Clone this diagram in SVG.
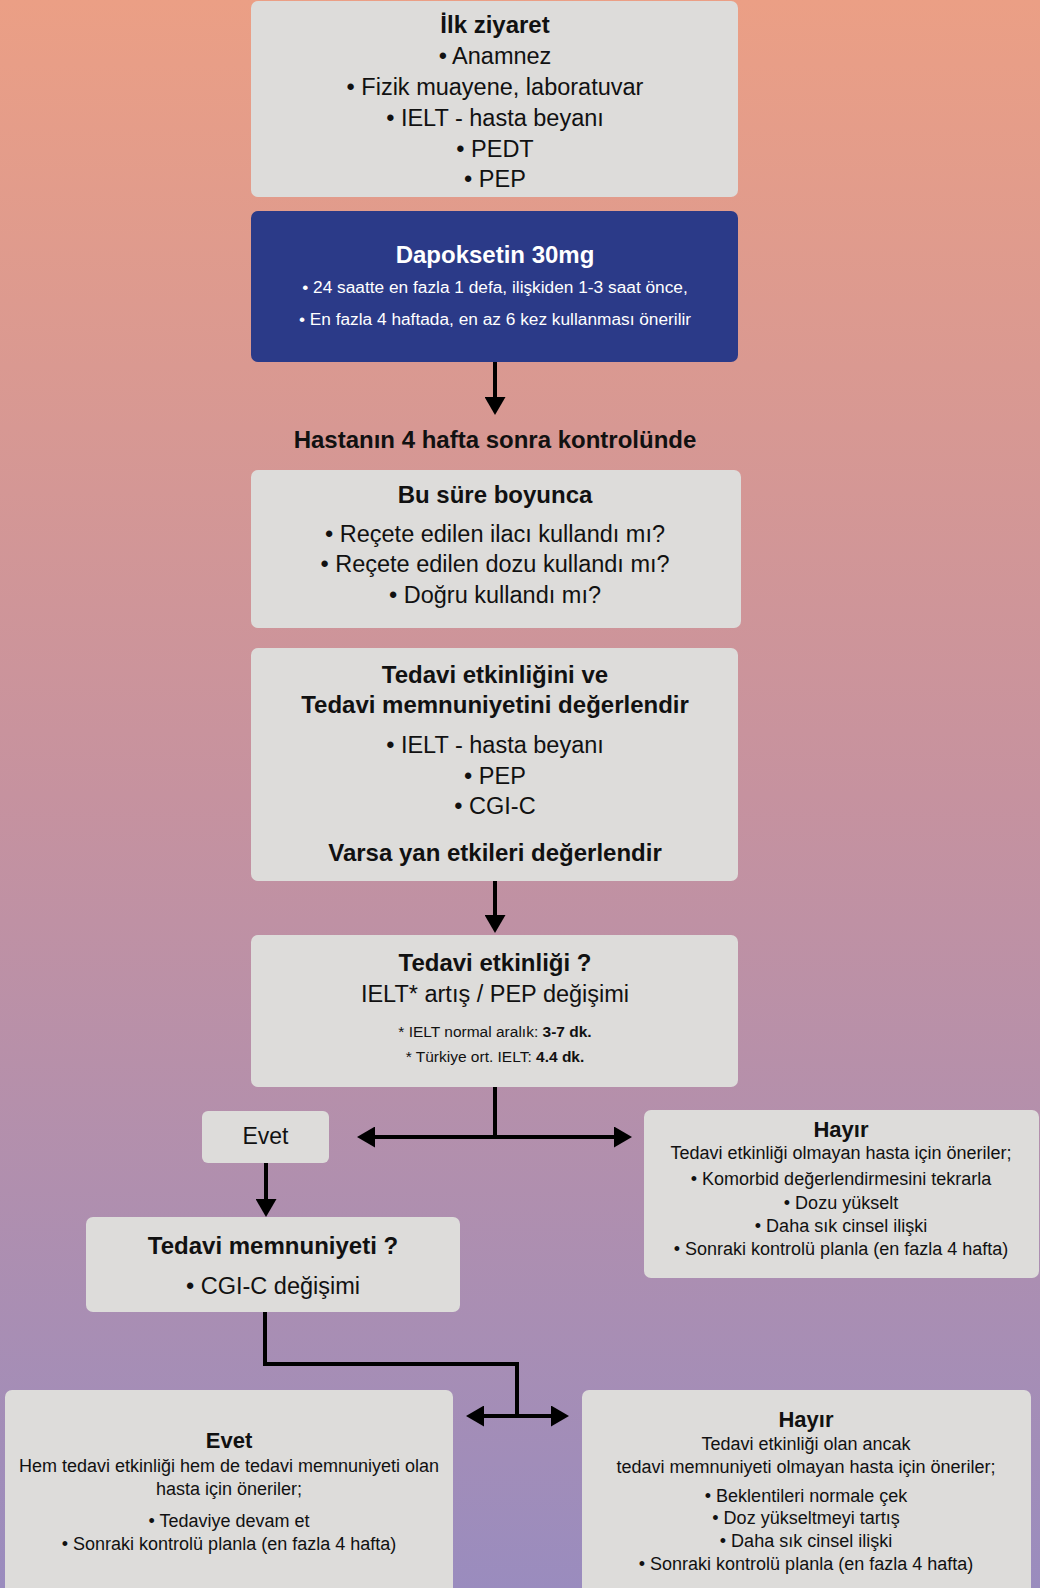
<svg xmlns="http://www.w3.org/2000/svg" width="1040" height="1588" viewBox="0 0 1040 1588">
<defs>
<linearGradient id="bg" x1="0" y1="0" x2="0" y2="1">
<stop offset="0" stop-color="#eb9f85"/>
<stop offset="0.5" stop-color="#c6929f"/>
<stop offset="1" stop-color="#9a8cbe"/>
</linearGradient>
<marker id="ah" markerUnits="userSpaceOnUse" viewBox="0 0 18 21" refX="0" refY="10.5" markerWidth="18" markerHeight="21" orient="auto-start-reverse">
<path d="M0,0 L18,10.5 L0,21 Z" fill="#000"/>
</marker>
<style>
.box{fill:#dddcda;}
.blue{fill:#2b3a88;}
text{font-family:"Liberation Sans",Arial,sans-serif;text-anchor:middle;fill:#111;}
.b{font-weight:bold;}
.h{font-size:24px;font-weight:bold;}
.t{font-size:23.5px;}
.s{font-size:18px;}
.w{fill:#fff;}
.c{fill:none;stroke:#000;stroke-width:4;}
</style>
</defs>
<rect x="0" y="0" width="1040" height="1588" fill="url(#bg)"/>

<g id="n-ilk">
<rect class="box" x="251" y="1" width="487" height="196" rx="7"/>
<text class="h" x="495" y="33" font-size="23.5">İlk ziyaret</text>
<text class="t" x="495" y="64">• Anamnez</text>
<text class="t" x="495" y="95">• Fizik muayene, laboratuvar</text>
<text class="t" x="495" y="126" font-size="23">• IELT - hasta beyanı</text>
<text class="t" x="495" y="157">• PEDT</text>
<text class="t" x="495" y="187">• PEP</text>
</g>

<g id="n-dapoksetin">
<rect class="blue" x="251" y="211" width="487" height="151" rx="7"/>
<text class="w b" x="495" y="263" font-size="24">Dapoksetin 30mg</text>
<text class="w" x="495" y="293" font-size="17.3">• 24 saatte en fazla 1 defa, ilişkiden 1-3 saat önce,</text>
<text class="w" x="495" y="325" font-size="17.3">• En fazla 4 haftada, en az 6 kez kullanması önerilir</text>
</g>

<g id="n-kontrol">
<text class="b" x="495" y="448" font-size="24">Hastanın 4 hafta sonra kontrolünde</text>
</g>

<g id="n-sure">
<rect class="box" x="251" y="470" width="490" height="158" rx="7"/>
<text class="h" x="495" y="503" font-size="23">Bu süre boyunca</text>
<text class="t" x="495" y="542">• Reçete edilen ilacı kullandı mı?</text>
<text class="t" x="495" y="572">• Reçete edilen dozu kullandı mı?</text>
<text class="t" x="495" y="603">• Doğru kullandı mı?</text>
</g>

<g id="n-degerlendir">
<rect class="box" x="251" y="648" width="487" height="233" rx="7"/>
<text class="h" x="495" y="683">Tedavi etkinliğini ve</text>
<text class="h" x="495" y="713">Tedavi memnuniyetini değerlendir</text>
<text class="t" x="495" y="753" font-size="23">• IELT - hasta beyanı</text>
<text class="t" x="495" y="784">• PEP</text>
<text class="t" x="495" y="814">• CGI-C</text>
<text class="h" x="495" y="861">Varsa yan etkileri değerlendir</text>
</g>

<g id="n-etkinlik">
<rect class="box" x="251" y="935" width="487" height="152" rx="7"/>
<text class="h" x="495" y="971">Tedavi etkinliği ?</text>
<text class="t" x="495" y="1002" font-size="22.5">IELT* artış / PEP değişimi</text>
<text x="495" y="1037" font-size="15.5">* IELT normal aralık: <tspan class="b">3-7 dk.</tspan></text>
<text x="495" y="1062" font-size="15.5">* Türkiye ort. IELT: <tspan class="b">4.4 dk.</tspan></text>
</g>

<g id="n-evet1">
<rect class="box" x="202" y="1111" width="127" height="52" rx="6"/>
<text x="265.5" y="1144" font-size="23">Evet</text>
</g>

<g id="n-hayir1">
<rect class="box" x="644" y="1110" width="395" height="168" rx="7"/>
<text class="b" x="841" y="1137" font-size="22">Hayır</text>
<text class="s" x="841" y="1159">Tedavi etkinliği olmayan hasta için öneriler;</text>
<text class="s" x="841" y="1185">• Komorbid değerlendirmesini tekrarla</text>
<text class="s" x="841" y="1209">• Dozu yükselt</text>
<text class="s" x="841" y="1232">• Daha sık cinsel ilişki</text>
<text class="s" x="841" y="1255">• Sonraki kontrolü planla (en fazla 4 hafta)</text>
</g>

<g id="n-memnuniyet">
<rect class="box" x="86" y="1217" width="374" height="95" rx="7"/>
<text class="h" x="273" y="1254">Tedavi memnuniyeti ?</text>
<text class="t" x="273" y="1294">• CGI-C değişimi</text>
</g>

<g id="n-evet2">
<rect class="box" x="5" y="1390" width="448" height="210" rx="7"/>
<text class="b" x="229" y="1448" font-size="22">Evet</text>
<text class="s" x="229" y="1472">Hem tedavi etkinliği hem de tedavi memnuniyeti olan</text>
<text class="s" x="229" y="1495">hasta için öneriler;</text>
<text class="s" x="229" y="1527">• Tedaviye devam et</text>
<text class="s" x="229" y="1550">• Sonraki kontrolü planla (en fazla 4 hafta)</text>
</g>

<g id="n-hayir2">
<rect class="box" x="582" y="1390" width="449" height="210" rx="7"/>
<text class="b" x="806" y="1427" font-size="22">Hayır</text>
<text class="s" x="806" y="1450">Tedavi etkinliği olan ancak</text>
<text class="s" x="806" y="1473">tedavi memnuniyeti olmayan hasta için öneriler;</text>
<text class="s" x="806" y="1502">• Beklentileri normale çek</text>
<text class="s" x="806" y="1524">• Doz yükseltmeyi tartış</text>
<text class="s" x="806" y="1547">• Daha sık cinsel ilişki</text>
<text class="s" x="806" y="1570">• Sonraki kontrolü planla (en fazla 4 hafta)</text>
</g>

<g id="connectors">
<line class="c" x1="495" y1="362" x2="495" y2="397" marker-end="url(#ah)"/>
<line class="c" x1="495" y1="881" x2="495" y2="915" marker-end="url(#ah)"/>
<line class="c" x1="495" y1="1087" x2="495" y2="1139"/>
<line class="c" x1="375" y1="1137" x2="614" y2="1137" marker-start="url(#ah)" marker-end="url(#ah)"/>
<line class="c" x1="266" y1="1163" x2="266" y2="1199" marker-end="url(#ah)"/>
<polyline class="c" points="265,1312 265,1364 517,1364 517,1418"/>
<line class="c" x1="484" y1="1416" x2="551" y2="1416" marker-start="url(#ah)" marker-end="url(#ah)"/>
</g>
</svg>
